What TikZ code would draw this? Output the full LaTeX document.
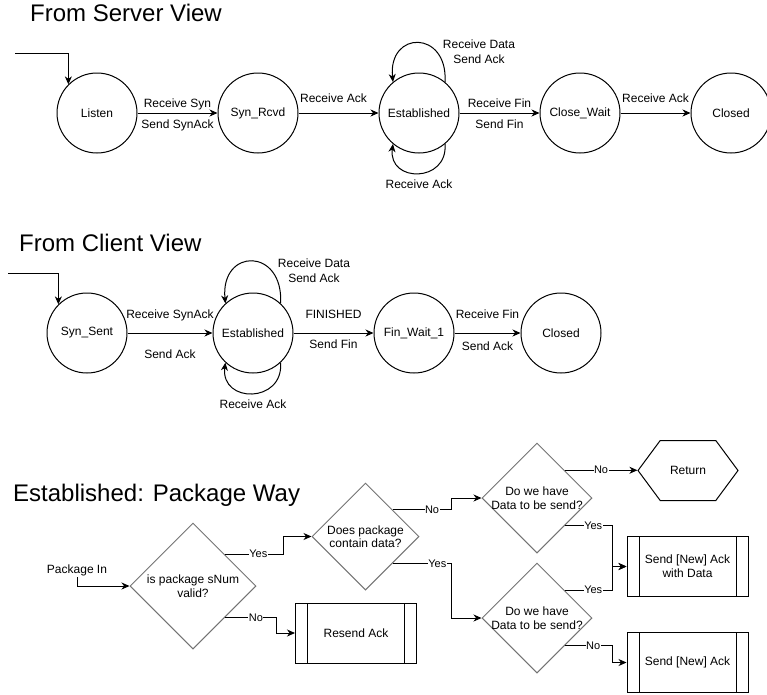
\documentclass[tikz,border=0pt]{standalone}
\usepackage{fontspec}
\setmainfont{Liberation Sans}
\usepackage{tikz}
\usetikzlibrary{arrows.meta,positioning,shapes.geometric,shapes.symbols}
\usepackage{xcolor}
\definecolor{decgray}{HTML}{737373}
\tikzset{
  state/.style={
    circle,
    draw,
    line width=1pt,
    minimum size=80pt,
    inner sep=0pt,
    font=\fontsize{12}{15}\selectfont
  },
  title/.style={anchor=base west, inner sep=0pt, font=\fontsize{24}{28}\selectfont},
  lbl/.style={inner sep=1pt, text height=9pt, text depth=3pt, font=\fontsize{12}{15}\selectfont},
  looplbl/.style={inner sep=0pt, align=center, font=\fontsize{12}{15}\selectfont},
  trans/.style={-{Stealth[length=8pt,width=7pt,inset=2.5pt]}, line width=1pt},
  decision/.style={
    diamond,
    draw=decgray,
    line width=1pt,
    aspect=1,
    inner sep=-5pt,
    align=center,
    font=\fontsize{12}{13.5}\selectfont
  },
  procbox/.style={
    rectangle,
    draw,
    line width=1pt,
    minimum width=121pt,
    minimum height=60pt,
    align=center,
    font=\fontsize{12}{14}\selectfont,
    path picture={
      \draw[line width=1pt] ([xshift=12pt]path picture bounding box.north west) -- ([xshift=12pt]path picture bounding box.south west);
      \draw[line width=1pt] ([xshift=-12pt]path picture bounding box.north east) -- ([xshift=-12pt]path picture bounding box.south east);
    }
  },
  endhex/.style={
    signal,
    signal to=east and west,
    signal pointer angle=107,
    draw,
    line width=1pt,
    minimum width=100pt,
    minimum height=60pt,
    inner sep=0pt,
    font=\fontsize{12}{14}\selectfont
  },
  yn/.style={fill=white, inner sep=0.5pt, font=\fontsize{11}{13}\selectfont}
}
\begin{document}
\begin{tikzpicture}[x=1pt, y=-1pt]
\useasboundingbox (0,0) rectangle (767,694);
% server side
\node[title] (srvtitle) at (30,21.7) {From Server View};
\node[state] (listen) at (97,113) {Listen};
\node[state, right=80pt of listen] (synrcvd) {Syn\_Rcvd};
\node[state, right=80pt of synrcvd] (sest) {Established};
\node[state, right=80pt of sest] (closewait) {Close\_Wait};
\node[state, right=70pt of closewait] (sclosed) {Closed};
\coordinate (sstart) at (15,53);
\draw[trans] (sstart) -| (listen.135);
\draw[trans] (listen) -- node[lbl, above, yshift=1pt] {Receive Syn} node[lbl, below, yshift=-5pt] {Send SynAck} (synrcvd);
\draw[trans] (synrcvd) -- node[lbl, above, xshift=-5pt, yshift=6pt] {Receive Ack} (sest);
\draw[trans] (sest) -- node[lbl, above, yshift=1pt] {Receive Fin} node[lbl, below, yshift=-5pt] {Send Fin} (closewait);
\draw[trans] (closewait) -- node[lbl, above, yshift=6pt] {Receive Ack} (sclosed);
\draw[trans] (sest.50) .. controls +(3,-52) and +(-5,-52) .. (sest.130);
\draw[trans] (sest.-50) .. controls +(3,39) and +(-5,39) .. (sest.-130);
\node[looplbl] (sdata) at ([shift={(60,-61.5)}]sest.center) {Receive Data\\Send Ack};
\node[looplbl] (sack) at ([shift={(0,71)}]sest.center) {Receive Ack};
% client side
\node[title] (clititle) at (19,251.7) {From Client View};
\node[state] (synsent) at (87,333) {Syn\_Sent};
\node[state, right=85pt of synsent] (cest) {Established};
\node[state, right=80pt of cest] (finwait) {Fin\_Wait\_1};
\node[state, right=66pt of finwait] (cclosed) {Closed};
\coordinate (cstart) at (8,273);
\draw[trans] (cstart) -| (synsent.135);
\draw[trans] (synsent) -- node[lbl, above, yshift=10pt] {Receive SynAck} node[lbl, below, yshift=-15pt] {Send Ack} (cest);
\draw[trans] (cest) -- node[lbl, above, yshift=10pt] {FINISHED} node[lbl, below, yshift=-5pt] {Send Fin} (finwait);
\draw[trans] (finwait) -- node[lbl, above, yshift=10pt] {Receive Fin} node[lbl, below, yshift=-7pt] {Send Ack} (cclosed);
\draw[trans] (cest.47) .. controls +(3,-56) and +(-5,-56) .. (cest.133);
\draw[trans] (cest.-47) .. controls +(3,41) and +(-5,41) .. (cest.-133);
\node[looplbl] (cdata) at ([shift={(61,-62.5)}]cest.center) {Receive Data\\Send Ack};
\node[looplbl] (cack) at ([shift={(0,71.5)}]cest.center) {Receive Ack};
% package way
\node[title] (flowtitle) at (13,501.7) {Established: Package Way};
\node[lbl] (pkgin) at (77,570) {Package In};
\node[decision, minimum size=126pt] (valid) at (193,586) {is package sNum\\valid?};
\node[decision, minimum size=107pt] (hasdata) at (365.5,536.5) {Does package\\contain data?};
\node[decision, minimum size=110pt] (sendno) at (537,498) {Do we have\\Data to be send?};
\node[decision, minimum size=110pt] (sendyes) at (537,618) {Do we have\\Data to be send?};
\node[procbox] (resend) at (356,633) {Resend Ack};
\node[procbox] (ackdata) at (687.5,566.5) {Send [New] Ack\\with Data};
\node[procbox] (ackonly) at (687.5,662.5) {Send [New] Ack};
\node[endhex] (ret) at (688,470.5) {Return};
\draw[trans] (pkgin.south) |- (valid.west);
\draw[trans] (valid.north east) -- node[yn, pos=0.57] {Yes} ++(59,0) |- (hasdata.west);
\draw[trans] (valid.south east) -- node[yn, pos=0.6] {No} ++(52,0) |- (resend.west);
\draw[trans] (hasdata.north east) -- node[yn, pos=0.67] {No} ++(59,0) |- (sendno.west);
\draw[trans] (hasdata.south east) -- node[yn, pos=0.76] {Yes} ++(59,0) |- (sendyes.west);
\draw[trans] (sendno.north east) -- node[yn] {No} (sendno.north east -| ret.west);
\draw[trans] (sendno.south east) -- node[yn, pos=0.6] {Yes} ++(47.5,0) |- (ackdata.west);
\draw[trans] (sendyes.north east) -- node[yn, pos=0.6] {Yes} ++(47.5,0) |- (ackdata.west);
\draw[trans] (sendyes.south east) -- node[yn, pos=0.6] {No} ++(47.5,0) |- (ackonly.west);
\end{tikzpicture}
\end{document}
